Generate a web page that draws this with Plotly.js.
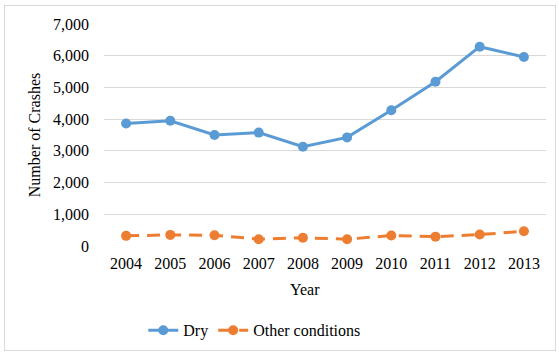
<!DOCTYPE html>
<html><head><meta charset="utf-8">
<script src="https://cdn.plot.ly/plotly-3.0.1.min.js"></script>
<style>
html,body{margin:0;padding:0;background:#fff;}
#wrap{position:relative;width:559px;height:354px;}
#chart{width:559px;height:354px;}
#frame{position:absolute;left:4px;top:5px;width:550px;height:344px;border:1px solid #d9d9d9;pointer-events:none;}
</style></head>
<body>
<div id="wrap"><div id="chart"></div><div id="frame"></div></div>
<script>
const years = ['2004','2005','2006','2007','2008','2009','2010','2011','2012','2013'];
const dry = [3860, 3950, 3500, 3575, 3130, 3425, 4280, 5180, 6285, 5960];
const other = [320, 350, 340, 215, 260, 215, 330, 295, 360, 465];
const yTicks = [0,1000,2000,3000,4000,5000,6000,7000];
const yTickText = ['0','1,000','2,000','3,000','4,000','5,000','6,000','7,000'];

const fam = '"Liberation Serif", "Times New Roman", serif';
const font = {family: fam, color: '#000', size: 16};

const traces = [
  {x: years, y: dry, name: 'Dry', type: 'scatter', mode: 'lines+markers',
   line: {color: '#5b9bd5', width: 3}, marker: {color: '#5b9bd5', size: 10}},
  {x: years, y: other, name: 'Other conditions', type: 'scatter', mode: 'lines+markers',
   line: {color: '#ed7d31', width: 3, dash: '13px,8px'}, marker: {color: '#ed7d31', size: 10}}
];

const layout = {
  width: 559, height: 354,
  margin: {l: 104, r: 13, t: 24, b: 108, autoexpand: false},
  paper_bgcolor: '#fff', plot_bgcolor: '#fff',
  font: font,
  showlegend: true,
  legend: {orientation: 'h', x: 0.34, xanchor: 'center', yref: 'container', y: 0.115, yanchor: 'top',
           font: {family: fam, size: 16, color: '#000'}},
  xaxis: {type: 'category', range: [-0.5, 9.5], showgrid: false, zeroline: false,
          showline: false, ticks: '', tickfont: {family: fam, size: 16, color: '#000'},
          ticklabelstandoff: 6, automargin: false},
  yaxis: {range: [0, 7000], tickvals: yTicks, ticktext: yTickText, showgrid: true,
          gridcolor: '#d9d9d9', gridwidth: 1, zeroline: false, showline: false, ticks: '',
          tickfont: {family: fam, size: 16, color: '#000'}, ticklabelstandoff: 14, automargin: false,
          title: {text: 'Number of Crashes', font: {family: fam, size: 16, color: '#000'}, standoff: 8}},
  annotations: [
    {text: 'Year', xref: 'paper', yref: 'paper', x: 0.455, y: -0.15, xanchor: 'center', yanchor: 'top',
     showarrow: false, font: {family: fam, size: 16, color: '#000'}}
  ]
};

Plotly.newPlot('chart', traces, layout, {displayModeBar: false, staticPlot: true});
</script>
</body></html>
